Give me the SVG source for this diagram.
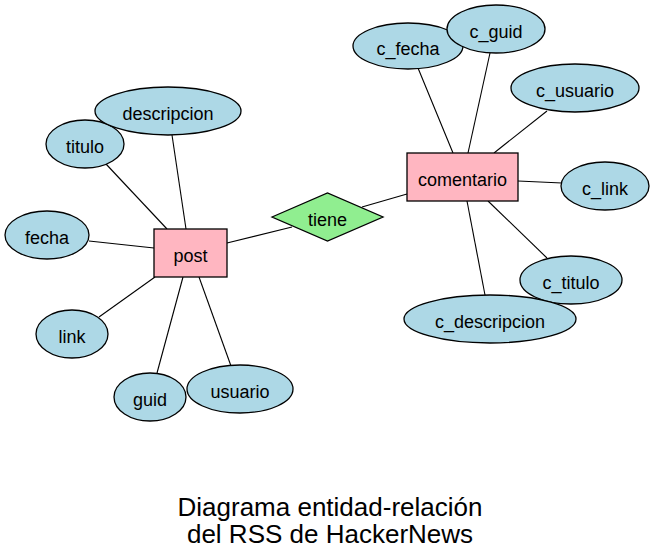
<svg xmlns="http://www.w3.org/2000/svg" width="655" height="557" viewBox="0 0 655 557">
<style>
.attr{fill:#add8e6;stroke:#000;stroke-width:1.3}
.ent{fill:#ffb6c1;stroke:#000;stroke-width:1.3}
.rel{fill:#90ee90;stroke:#000;stroke-width:1.3}
.e{stroke:#000;stroke-width:1.1;fill:none}
text{font-family:"Liberation Sans",Arial,sans-serif;font-size:18px;fill:#000;text-anchor:middle}
.title{font-size:26px}
</style>
<rect width="655" height="557" fill="#fff"/>
<g id="connectors">
<line class="e" x1="106" y1="164" x2="167" y2="229"/>
<line class="e" x1="172" y1="135" x2="186" y2="229"/>
<line class="e" x1="89" y1="241" x2="154" y2="248"/>
<line class="e" x1="99" y1="317" x2="155" y2="277"/>
<line class="e" x1="157" y1="373" x2="183" y2="277"/>
<line class="e" x1="231" y1="366" x2="199" y2="277"/>
<line class="e" x1="227" y1="243" x2="292" y2="227"/>
<line class="e" x1="362" y1="207" x2="407" y2="194"/>
<line class="e" x1="418" y1="68" x2="453" y2="153"/>
<line class="e" x1="490" y1="53" x2="468" y2="153"/>
<line class="e" x1="547" y1="111" x2="494" y2="153"/>
<line class="e" x1="518" y1="181" x2="562" y2="183"/>
<line class="e" x1="488" y1="201" x2="547" y2="258"/>
<line class="e" x1="467" y1="201" x2="485" y2="295"/>
</g>
<g id="titulo"><ellipse class="attr" cx="85" cy="144" rx="39" ry="24"/><text x="85" y="152.5">titulo</text></g>
<g id="descripcion"><ellipse class="attr" cx="168" cy="111" rx="73" ry="24"/><text x="168" y="119.5">descripcion</text></g>
<g id="fecha"><ellipse class="attr" cx="47" cy="235" rx="42" ry="24"/><text x="47" y="243.5">fecha</text></g>
<g id="link"><ellipse class="attr" cx="72" cy="334" rx="36" ry="24"/><text x="72" y="342.5">link</text></g>
<g id="guid"><ellipse class="attr" cx="150" cy="397" rx="36" ry="24"/><text x="150" y="405.5">guid</text></g>
<g id="usuario"><ellipse class="attr" cx="240" cy="389" rx="53" ry="24"/><text x="240" y="397.5">usuario</text></g>
<g id="post"><rect class="ent" x="154" y="229" width="73" height="48"/><text x="190.5" y="261.5">post</text></g>
<g id="tiene"><polygon class="rel" points="272,217 327.5,193 383,217 327.5,241"/><text x="327.5" y="225.5">tiene</text></g>
<g id="comentario"><rect class="ent" x="407" y="153" width="111" height="48"/><text x="462.5" y="185.5">comentario</text></g>
<g id="c_fecha"><ellipse class="attr" cx="408" cy="46" rx="55" ry="23"/><text x="408" y="54.5">c_fecha</text></g>
<g id="c_guid"><ellipse class="attr" cx="496" cy="29" rx="49" ry="24"/><text x="496" y="37.5">c_guid</text></g>
<g id="c_usuario"><ellipse class="attr" cx="575" cy="88" rx="64" ry="24"/><text x="575" y="96.5">c_usuario</text></g>
<g id="c_link"><ellipse class="attr" cx="605" cy="186" rx="44" ry="24"/><text x="605" y="194.5">c_link</text></g>
<g id="c_titulo"><ellipse class="attr" cx="571" cy="280" rx="51" ry="24"/><text x="571" y="288.5">c_titulo</text></g>
<g id="c_descripcion"><ellipse class="attr" cx="490" cy="319" rx="86" ry="24"/><text x="490" y="327.5">c_descripcion</text></g>
<g id="label">
<text class="title" x="330" y="516">Diagrama entidad-relación</text>
<text class="title" x="330" y="543">del RSS de HackerNews</text>
</g>
</svg>
